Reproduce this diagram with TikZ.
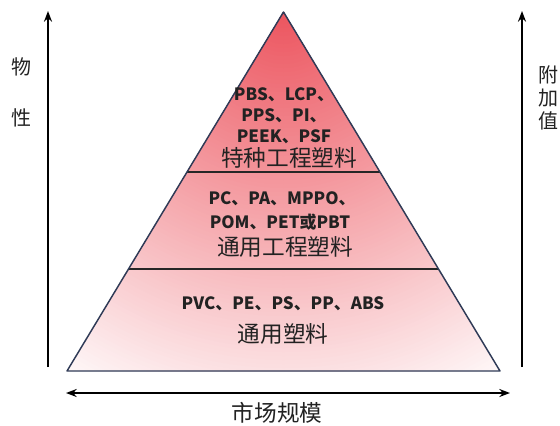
\documentclass[tikz,border=0pt]{standalone}
\usepackage{fontspec}
\setmainfont{Noto Sans CJK SC}
\usetikzlibrary{arrows.meta}
\definecolor{edgec}{HTML}{2F3B57}
\definecolor{txt}{HTML}{222222}
\definecolor{s0}{RGB}{236,84,94}
\tikzset{
  axis/.style={line width=1.5pt, draw=black, -{Stealth[length=8pt,width=6pt]}},
  lat/.style={font=\fontsize{12.7}{15}\selectfont\bfseries, text=txt, inner sep=0pt},
  cjk/.style={font=\fontsize{17}{19}\selectfont, text=txt, inner sep=0pt},
  side/.style={font=\fontsize{15}{17}\selectfont, text=txt, inner sep=0pt},
  divline/.style={line width=1.2pt, draw=black!85}
}
\begin{document}
\begin{tikzpicture}[x=0.75pt,y=-0.75pt]
\useasboundingbox (0,0) rectangle (560,425);
\coordinate (apex) at (283.5,12);
\coordinate (bl) at (67,371);
\coordinate (br) at (500,371);
\coordinate (d1l) at (186.7,172);
\coordinate (d1r) at (380.3,172);
\coordinate (d2l) at (128.5,269);
\coordinate (d2r) at (438.5,269);
\begin{scope}
  \clip (apex) -- (br) -- (bl) -- cycle;
  \fill[white] (apex) -- (br) -- (bl) -- cycle;
  \foreach \r in {432,428,...,4}{
    \pgfmathsetmacro\p{100*max(0.0,1-\r/440)}
    \fill[s0!\p!white] (apex) circle (\r);
  }
\end{scope}
\draw[divline] (d1l) -- (d1r);
\draw[divline] (d2l) -- (d2r);
\draw[edgec, line width=1.1pt, line join=round] (apex) -- (br) -- (bl) -- cycle;
% axes
\coordinate (la0) at (48,367); \coordinate (la1) at (48,11);
\coordinate (ra0) at (522,367); \coordinate (ra1) at (522,11);
\coordinate (ba0) at (66,393); \coordinate (ba1) at (510,393);
\draw[axis] (la0) -- (la1);
\draw[axis] (ra0) -- (ra1);
\draw[axis, {Stealth[length=8pt,width=6pt]}-{Stealth[length=8pt,width=6pt]}] (ba0) -- (ba1);
% texts
\node[lat] (t1) at (284,95) {PBS、LCP、};
\node[lat] (t2) at (284,116) {PPS、PI、};
\node[lat] (t3) at (284,137) {PEEK、PSF};
\node[cjk] (t4) at (289,158) {特种工程塑料};
\node[lat] (m1) at (282,199) {PC、PA、MPPO、};
\node[lat] (m2) at (280,222) {POM、PET或PBT};
\node[cjk] (m3) at (285,247) {通用工程塑料};
\node[lat] (b1) at (283,304) {PVC、PE、PS、PP、ABS};
\node[cjk] (b2) at (283,334) {通用塑料};
\node[cjk] (xl) at (277,413) {市场规模};
\node[side] (w1) at (22,67) {物};
\node[side] (w2) at (22,118) {性};
\node[side] (v1) at (548,75) {附};
\node[side] (v2) at (548,98) {加};
\node[side] (v3) at (548,121) {值};
\end{tikzpicture}
\end{document}
